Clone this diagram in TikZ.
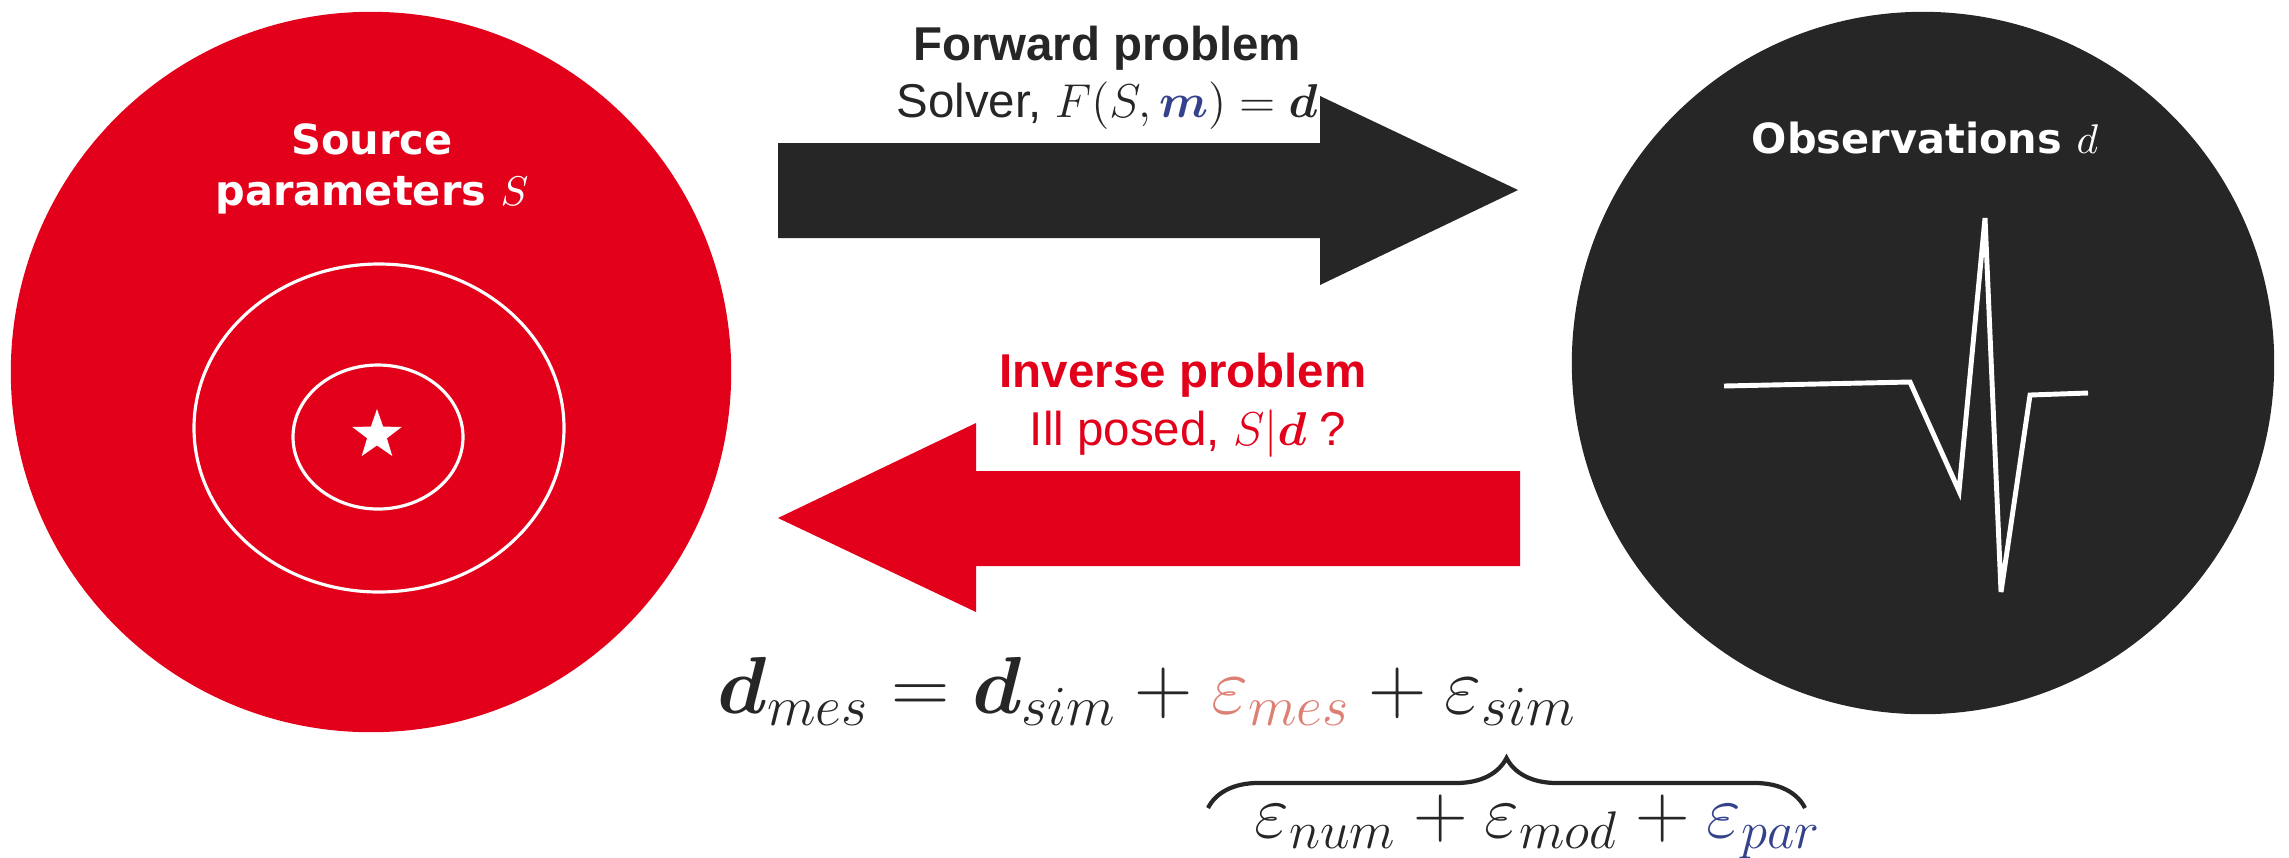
\RequirePackage{fix-cm}
\documentclass[tikz,border=0pt]{standalone}
\usepackage{amsmath}
\usepackage{amssymb}
\usepackage{fontspec}
\setmainfont{Liberation Sans}
\newfontfamily\blackfont{DejaVu Sans}
\usepackage{tikz}
\usetikzlibrary{positioning, shapes.geometric, decorations.pathreplacing}
\definecolor{srcred}{HTML}{E2001A}
\definecolor{obsgrey}{HTML}{262626}
\definecolor{mesred}{HTML}{DE7F74}
\definecolor{parblue}{HTML}{34428C}
\tikzset{
  blob/.style = {circle, inner sep=0pt, minimum size=#1},
  ttl/.style  = {anchor=base, inner sep=0pt, font=\fontsize{13.5}{16}\selectfont\bfseries},
  sub/.style  = {anchor=base, inner sep=0pt, font=\fontsize{13.5}{16}\selectfont},
  lbl/.style  = {anchor=base, inner sep=0pt, text=white, font=\fontsize{11.8}{14}\selectfont\blackfont\bfseries},
  ring/.style = {draw=white, line width=0.9pt},
  wave/.style = {draw=white, line width=1.4pt},
  eq/.style   = {anchor=base west, inner sep=0pt, text=obsgrey, font=\fontsize{#1}{26}\selectfont},
}

\begin{document}
\begin{tikzpicture}[x=0.01cm, y=-0.01cm]
    \useasboundingbox (0,0) rectangle (2289,857);
    % source side
    \node[blob=7.2cm, fill=srcred] (src) at (371,372) {};
    \draw[ring] (379,428) ellipse [x radius=185, y radius=164];
    \draw[ring] (378,437) ellipse [x radius=85, y radius=72];
    \node[star, star points=5, star point ratio=2.5, fill=white, inner sep=0pt, minimum size=0.52cm] (epi) at (377,435) {};
    \node[lbl] (srcA) at (372,154) {Source};
    \node[lbl] (srcB) at (372,205) {parameters $S$};
    % observation side
    \node[blob=7.02cm, fill=obsgrey] (obs) at (1923,363) {};
    \node[lbl] (obsA) at (1925,153) {Observations $d$};
    \draw[wave] (1724,386) -- (1910,382) -- (1959,491) -- (1985,218) -- (2001,592) -- (2030,395) -- (2088,393);
    % forward and inverse arrows
    \fill[obsgrey] (778,143) -- (1320,143) -- (1320,96) -- (1518,190) -- (1320,285) -- (1320,238) -- (778,238) -- cycle;
    \fill[srcred] (1520,471) -- (976,471) -- (976,423) -- (778,518) -- (976,612) -- (976,566) -- (1520,566) -- cycle;
    \node[ttl, text=obsgrey] (fwdA) at (1107,60) {Forward problem};
    \node[sub, text=obsgrey] (fwdB) at (1107,117) {Solver, $F(S,\textcolor{parblue}{\boldsymbol{m}})=\boldsymbol{d}$};
    \node[ttl, text=srcred] (invA) at (1183,387) {Inverse problem};
    \node[sub, text=srcred] (invB) at (1188,445) {Ill posed, $S|\boldsymbol{d}$ ?};
    % data equation
    \node[eq=23] (dmes) at (717,713) {$\boldsymbol{d}_{mes}=\boldsymbol{d}_{sim}+\textcolor{mesred}{\varepsilon_{mes}}+\varepsilon_{sim}$};
    \node[eq=21.5] (esim) at (1254,837) {$\varepsilon_{num}+\varepsilon_{mod}+\textcolor{parblue}{\varepsilon_{par}}$};
    \draw[obsgrey, line width=1.2pt, decorate, decoration={brace, amplitude=0.5cm}] (1208,808) -- (1805,808);
\end{tikzpicture}
\end{document}
